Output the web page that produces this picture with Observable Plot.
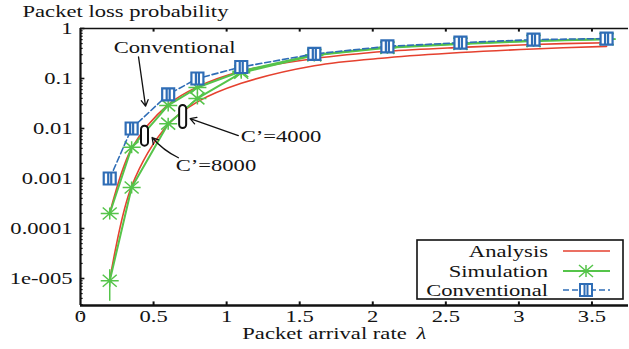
<!DOCTYPE html>
<html><head><meta charset="utf-8">
<script src="https://cdn.jsdelivr.net/npm/d3@7"></script>
<script src="https://cdn.jsdelivr.net/npm/@observablehq/plot@0.6"></script>
<style>
body{margin:0;background:#fff;}
#chart svg text{font-family:"Liberation Serif","Times New Roman",serif;}
</style></head><body><div id="chart"></div>
<script>
// ---- data ----
const lambda = [0.2, 0.35, 0.6, 0.8, 1.1, 1.6, 2.1, 2.6, 3.1, 3.6];
const analysisC8000 = [2e-4, 0.004, 0.03, 0.068, 0.14, 0.25, 0.35, 0.42, 0.48, 0.52];
const analysisC4000 = [9e-6, 7e-4, 0.012, 0.034, 0.08, 0.18, 0.26, 0.33, 0.39, 0.44];
const simulationC8000 = [2e-4, 0.0042, 0.029, 0.066, 0.14, 0.3, 0.42, 0.5, 0.57, 0.62];
const simulationC4000 = [9e-6, 6.6e-4, 0.0125, 0.04, 0.13, 0.29, 0.41, 0.49, 0.56, 0.61];
const conventional = [0.001, 0.01, 0.048, 0.1, 0.17, 0.31, 0.44, 0.52, 0.6, 0.63];
const errLow = [{x: 0.2, lo: 3.5e-6, hi: 1.5e-5}];
const xTicks = [0, 0.5, 1, 1.5, 2, 2.5, 3, 3.5];
const xTickLabels = ["0", "0.5", "1", "1.5", "2", "2.5", "3", "3.5"];
const yTicks = [1, 0.1, 0.01, 0.001, 0.0001, 0.00001];
const yTickLabels = ["1", "0.1", "0.01", "0.001", "0.0001", "1e-005"];
const yMinor = [];
for (let d = -6; d < 0; d++) for (let k = 2; k <= 9; k++) yMinor.push(k * 10 ** d);
const yMin = 10 ** -5.54, yMax = 1, xMin = 0, xMax = 3.75;

const RED = "#e5412f", GREEN = "#55c44a", BLUE = "#2f6db6";
const INK = "#141414", FS = 17;

const series = (ys) => lambda.map((x, i) => ({x, y: ys[i]}));

// ---- symbols ----
const star = {draw(c) {
  c.moveTo(-9, 0); c.lineTo(9, 0);
  c.moveTo(-7, -6); c.lineTo(7, 6);
  c.moveTo(-7, 6); c.lineTo(7, -6);
  c.moveTo(0, -6); c.lineTo(0, 6);
}};
const square = {draw(c) {
  const s = 6;
  c.rect(-s, -s, 2 * s, 2 * s);
  c.moveTo(-1.5, -s); c.lineTo(-1.5, s);
  c.moveTo(1.5, -s); c.lineTo(1.5, s);
}};
const oval = (w, h) => ({draw(c) {
  const r = w / 2, l = h / 2 - r;
  c.moveTo(r, -l); c.lineTo(r, l);
  c.arc(0, l, r, 0, Math.PI);
  c.lineTo(-r, -l);
  c.arc(0, -l, r, Math.PI, 2 * Math.PI);
  c.closePath();
}});

// ---- annotations (data coords) ----
const annConv = [{x: 0.644, y: 0.417, t: "Conventional"}];
const annC4000 = [{x: 1.096, y: 0.0069, t: "C’=4000"}];
const annC8000 = [{x: 0.651, y: 0.00182, t: "C’=8000"}];
const arrowConv = [{x1: 0.397, y1: 0.27, x2: 0.445, y2: 0.028}];
const arrow4000 = [{x1: 1.08, y1: 0.0072, x2: 0.75, y2: 0.0158}];
const arrow8000 = [{x1: 0.67, y1: 0.0026, x2: 0.49, y2: 0.0066}];
const oval4000 = [{x: 0.699, y: 0.0174}];
const oval8000 = [{x: 0.438, y: 0.0072}];

const plot = Plot.plot({
  width: 629, height: 349,
  marginLeft: 80, marginRight: 1, marginTop: 28, marginBottom: 44,
  x: {domain: [xMin, xMax]},
  y: {type: "log", domain: [yMin, yMax]},
  style: {fontFamily: "Liberation Serif", fontSize: FS + "px", color: INK, background: "white", overflow: "visible"},
  marks: [
    // frame lines
    Plot.ruleY([yMax], {stroke: "#111", strokeWidth: 1.6}),
    Plot.ruleX([xMin], {stroke: "#111", strokeWidth: 2.2}),
    Plot.ruleY([yMin], {stroke: "#111", strokeWidth: 2.6}),
    // inward ticks
    Plot.ruleY(yTicks, {x1: 0, x2: 0.03, stroke: "#111", strokeWidth: 1.6}),
    Plot.ruleY(yMinor, {x1: 0, x2: 0.018, stroke: "#111", strokeWidth: 1.2}),
    Plot.ruleX(xTicks.slice(1), {y1: yMin, y2: yMin * 1.18, stroke: "#111", strokeWidth: 2}),
    Plot.ruleX(xTicks.slice(1), {y1: yMax, y2: yMax / 1.18, stroke: "#111", strokeWidth: 2}),
    Plot.axisX({ticks: xTicks, tickFormat: d => xTickLabels[xTicks.indexOf(d)], tickSize: 0, tickPadding: 4, label: null}),
    Plot.axisY({ticks: yTicks, tickFormat: d => yTickLabels[yTicks.indexOf(d)], tickSize: 0, tickPadding: 8, label: null}),
    // analysis curves
    Plot.line(series(analysisC8000), {x: "x", y: "y", stroke: RED, strokeWidth: 1.6, curve: "catmull-rom"}),
    Plot.line(series(analysisC4000), {x: "x", y: "y", stroke: RED, strokeWidth: 1.6, curve: "catmull-rom"}),
    // simulation
    Plot.ruleX(errLow, {x: "x", y1: "lo", y2: "hi", stroke: GREEN, strokeWidth: 1.5}),
    Plot.line(series(simulationC8000), {x: "x", y: "y", stroke: GREEN, strokeWidth: 2}),
    Plot.line(series(simulationC4000), {x: "x", y: "y", stroke: GREEN, strokeWidth: 2}),
    Plot.dot(series(simulationC8000), {x: "x", y: "y", symbol: star, stroke: GREEN, strokeWidth: 1.5, fill: "none"}),
    Plot.dot(series(simulationC4000), {x: "x", y: "y", symbol: star, stroke: GREEN, strokeWidth: 1.5, fill: "none"}),
    // conventional
    Plot.line(series(conventional), {x: "x", y: "y", stroke: BLUE, strokeWidth: 1.6, strokeDasharray: "6,3"}),
    Plot.dot(series(conventional), {x: "x", y: "y", symbol: square, stroke: BLUE, strokeWidth: 2.2, fill: "white"}),
    // annotations
    Plot.arrow(arrowConv, {x1: "x1", y1: "y1", x2: "x2", y2: "y2", stroke: "#111", strokeWidth: 1.3, headLength: 8}),
    Plot.arrow(arrow4000, {x1: "x1", y1: "y1", x2: "x2", y2: "y2", stroke: "#111", strokeWidth: 1.3, headLength: 8}),
    Plot.arrow(arrow8000, {x1: "x1", y1: "y1", x2: "x2", y2: "y2", stroke: "#111", strokeWidth: 1.3, headLength: 8, bend: 12}),
    Plot.dot(oval4000, {x: "x", y: "y", symbol: oval(7, 23), stroke: "#111", strokeWidth: 2, fill: "white"}),
    Plot.dot(oval8000, {x: "x", y: "y", symbol: oval(7, 20), stroke: "#111", strokeWidth: 2, fill: "white"}),
    Plot.text(annConv, {x: "x", y: "y", text: "t", textAnchor: "middle", fontSize: FS, fill: INK}),
    Plot.text(annC4000, {x: "x", y: "y", text: "t", textAnchor: "start", fontSize: FS, fill: INK}),
    Plot.text(annC8000, {x: "x", y: "y", text: "t", textAnchor: "start", fontSize: FS, fill: INK}),
    // titles
    Plot.text(["Packet loss probability"], {frameAnchor: "top-left", dx: -58, dy: -17, textAnchor: "start", lineAnchor: "middle", fontSize: FS, fill: INK}),
    Plot.text(["Packet arrival rate"], {frameAnchor: "bottom", dx: -30, dy: 28, textAnchor: "middle", lineAnchor: "middle", fontSize: FS, fill: INK}),
    Plot.text(["λ"], {frameAnchor: "bottom", dx: 67, dy: 28, textAnchor: "middle", lineAnchor: "middle", fontSize: FS, fontStyle: "italic", fill: INK})
  ]
});

// ---- legend ----
const svg = d3.select(plot);
const lg = svg.append("g").attr("font-family", "Liberation Serif").attr("font-size", FS).attr("fill", INK);
lg.append("rect").attr("x", 417).attr("y", 240).attr("width", 206).attr("height", 59)
  .attr("fill", "white").attr("stroke", "#111").attr("stroke-width", 1.6);
const items = [
  {label: "Analysis", y: 251, color: RED, width: 1.6, dash: null, sym: null},
  {label: "Simulation", y: 271, color: GREEN, width: 2, dash: null, sym: star},
  {label: "Conventional", y: 290, color: BLUE, width: 1.6, dash: "6,3", sym: square}
];
for (const it of items) {
  lg.append("text").attr("x", 548).attr("y", it.y).attr("dy", "0.35em").attr("text-anchor", "end").text(it.label);
  lg.append("line").attr("x1", 563).attr("x2", 610).attr("y1", it.y).attr("y2", it.y)
    .attr("stroke", it.color).attr("stroke-width", it.width).attr("stroke-dasharray", it.dash);
  if (it.sym) {
    const p = d3.path(); it.sym.draw(p);
    lg.append("path").attr("d", p.toString()).attr("transform", `translate(586,${it.y})`)
      .attr("stroke", it.color).attr("stroke-width", it.sym === square ? 2 : 1.5)
      .attr("fill", it.sym === square ? "white" : "none");
  }
}

// the reference's lettering is horizontally stretched; widen each text about its anchor
const SX = 1.33;
svg.selectAll("text").each(function () {
  const x = +(this.getAttribute("x") || 0);
  const tr = this.getAttribute("transform") || "";
  this.setAttribute("transform", `${tr} translate(${x},0) scale(${SX},1) translate(${-x},0)`);
});
document.getElementById("chart").append(plot);
</script></body></html>
